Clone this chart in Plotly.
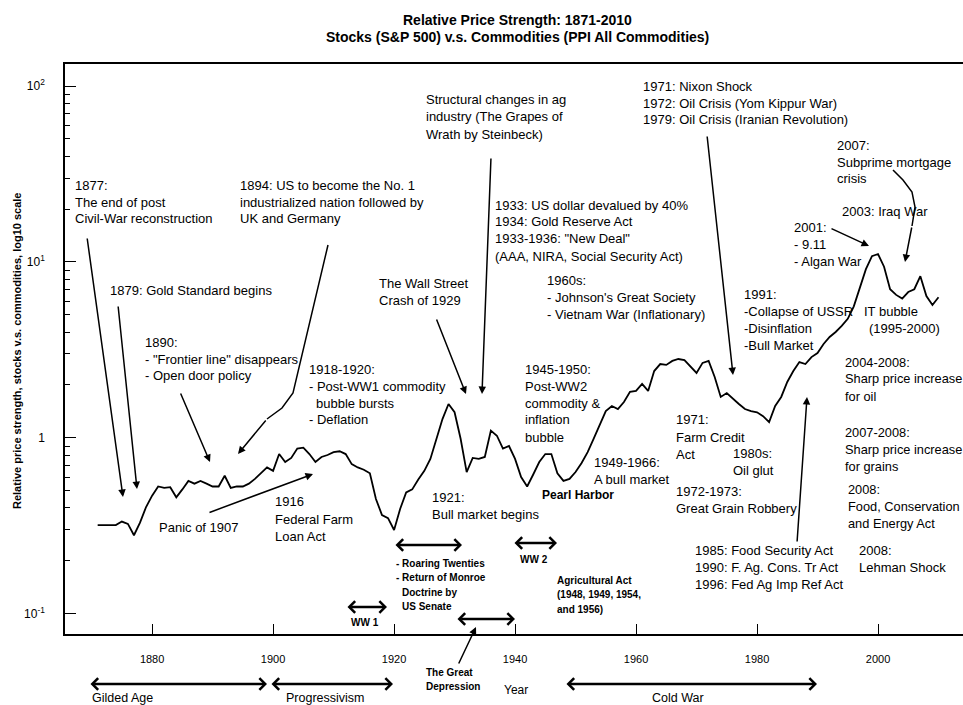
import plotly.graph_objects as go

# ---------------- data ----------------
years = list(range(1871, 2011))
ratio = [
    0.32, 0.32, 0.32, 0.32, 0.335, 0.325, 0.28, 0.33, 0.405, 0.47,      # 1871-1880
    0.53, 0.52, 0.525, 0.46, 0.51, 0.57, 0.55, 0.57, 0.55, 0.53,       # 1881-1890
    0.53, 0.61, 0.52, 0.53, 0.53, 0.55, 0.585, 0.63, 0.68, 0.65,       # 1891-1900
    0.81, 0.73, 0.77, 0.87, 0.88, 0.81, 0.73, 0.78, 0.80, 0.83,        # 1901-1910
    0.84, 0.81, 0.71, 0.68, 0.66, 0.63, 0.45, 0.365, 0.35, 0.30,       # 1911-1920
    0.395, 0.49, 0.51, 0.58, 0.65, 0.76, 0.99, 1.28, 1.56, 1.40,       # 1921-1930
    0.99, 0.64, 0.77, 0.76, 0.78, 1.10, 1.03, 0.87, 0.90, 0.76,        # 1931-1940
    0.60, 0.53, 0.62, 0.73, 0.81, 0.81, 0.63, 0.57, 0.585, 0.64,       # 1941-1950
    0.72, 0.83, 0.99, 1.20, 1.42, 1.52, 1.46, 1.60, 1.83, 1.85,        # 1951-1960
    2.03, 1.85, 2.40, 2.63, 2.60, 2.74, 2.81, 2.77, 2.53, 2.34,        # 1961-1970
    2.67, 2.74, 2.22, 1.71, 1.80, 1.67, 1.56, 1.46, 1.42, 1.40,        # 1971-1980
    1.33, 1.23, 1.52, 1.71, 2.08, 2.40, 2.70, 2.63, 2.88, 3.04,        # 1981-1990
    3.42, 3.75, 4.0, 4.33, 4.75, 5.6, 7.2, 9.1, 10.8, 11.1,            # 1991-2000
    9.4, 7.0, 6.5, 6.2, 6.75, 7.0, 8.3, 6.4, 5.7, 6.3,                 # 2001-2010
]

x_ticks = [1880, 1900, 1920, 1940, 1960, 1980, 2000]
y_ticks = [0.1, 1, 10, 100]
y_tick_text = ["10<sup>-1</sup>", "1", "10<sup>1</sup>", "10<sup>2</sup>"]
y_minor = [0.2, 0.3, 0.4, 0.5, 0.6, 0.7, 0.8, 0.9,
           2, 3, 4, 5, 6, 7, 8, 9, 20, 30, 40, 50, 60, 70, 80, 90]

title_lines = ["Relative Price Strength: 1871-2010",
               "Stocks (S&P 500) v.s. Commodities (PPI All Commodities)"]
y_title = "Relative price strength, stocks v.s. commodities, log10 scale"

FONT = "Liberation Sans, Arial, sans-serif"

# plot area in pixels
L, R, T, B = 65, 963, 64, 634


def pp(px, py):
    return (px - L) / (R - L), (B - py) / (B - T)


ann = []
shapes = []


def block(px, py, lines, size=13, dy=17, bold=False):
    for i, line in enumerate(lines):
        dx = 0
        if isinstance(line, tuple):
            dx, line = line
        x, y = pp(px + dx, py + i * dy)
        txt = "<b>%s</b>" % line if bold else line
        ann.append(dict(x=x, y=y, xref="paper", yref="paper", text=txt,
                        showarrow=False, xanchor="left", yanchor="middle",
                        font=dict(size=size, color="black", family=FONT)))


def arrow(tail, tip, head=2, width=1.5, size=1.0):
    x, y = pp(*tip)
    ann.append(dict(x=x, y=y, xref="paper", yref="paper", text="",
                    ax=tail[0] - tip[0], ay=tail[1] - tip[1],
                    showarrow=True, arrowhead=head, arrowsize=size,
                    arrowwidth=width, arrowcolor="black", standoff=0))


def darrow(p1, p2, width=2.5, head=4, size=0.9):
    x, y = pp(*p2)
    ann.append(dict(x=x, y=y, xref="paper", yref="paper", text="",
                    ax=p1[0] - p2[0], ay=p1[1] - p2[1],
                    showarrow=True, arrowside="end+start",
                    arrowhead=head, startarrowhead=head,
                    arrowsize=size, startarrowsize=size,
                    arrowwidth=width, arrowcolor="black",
                    standoff=0, startstandoff=0))


def path(points, width=1.5):
    d = ""
    for i, (px, py) in enumerate(points):
        x, y = pp(px, py)
        d += ("M" if i == 0 else "L") + "%.5f,%.5f " % (x, y)
    shapes.append(dict(type="path", path=d, xref="paper", yref="paper",
                       line=dict(color="black", width=width)))


# ---------------- annotations ----------------
block(73, 185, ["1877:", "The end of post", "Civil-War reconstruction"])
block(238, 185, ["1894: US to become the No. 1",
                 "industrialized nation followed by", "UK and Germany"])
block(424, 100, ["Structural changes in ag", "industry (The Grapes of",
                 "Wrath by Steinbeck)"])
block(493, 205, ["1933: US dollar devalued by 40%", "1934: Gold Reserve Act",
                 "1933-1936: \"New Deal\"", "(AAA, NIRA, Social Security Act)"])
block(641, 86, ["1971: Nixon Shock", "1972: Oil Crisis (Yom Kippur War)",
                "1979: Oil Crisis (Iranian Revolution)"])
block(835, 145, ["2007:", "Subprime mortgage", "crisis"])
block(840, 211, ["2003: Iraq War"])
block(792, 227, ["2001:", "- 9.11", "- Algan War"])
block(108, 290, ["1879: Gold Standard begins"])
block(377, 283, ["The Wall Street", "Crash of 1929"])
block(545, 280, ["1960s:", "- Johnson's Great Society", "- Vietnam War (Inflationary)"])
block(742, 294, ["1991:", "-Collapse of USSR", "-Disinflation", "-Bull Market"])
block(862, 311, ["IT bubble", (5, "(1995-2000)")])
block(143, 342, ["1890:", "- \"Frontier line\" disappears", "- Open door policy"])
block(307, 369, ["1918-1920:", "- Post-WW1 commodity", (7, "bubble bursts"), "- Deflation"])
block(843, 362, ["2004-2008:", "Sharp price increase", "for oil"], size=12.8)
block(523, 369, ["1945-1950:", "Post-WW2", "commodity &", "inflation", "bubble"])
block(674, 420, ["1971:", "Farm Credit", "Act"])
block(843, 432, ["2007-2008:", "Sharp price increase", "for grains"], size=12.8)
block(731, 453, ["1980s:", "Oil glut"])
block(592, 462, ["1949-1966:", "A bull market"])
block(540, 495, ["Pearl Harbor"], size=12, bold=True)
block(674, 491, ["1972-1973:", "Great Grain Robbery"])
block(157, 527, ["Panic of 1907"])
block(273, 502, ["1916", "Federal Farm", "Loan Act"])
block(430, 497, ["1921:", "Bull market begins"])
block(846, 489, ["2008:", "Food, Conservation", "and Energy Act"], size=12.8)
block(394, 563, ["- Roaring Twenties", "- Return of Monroe", (6, "Doctrine by"), (6, "US Senate")],
      size=10, dy=14.5, bold=True)
block(518, 559, ["WW 2"], size=10, bold=True)
block(555, 580, ["Agricultural Act", "(1948, 1949, 1954,", "and 1956)"], size=10, dy=14.5, bold=True)
block(693, 550, ["1985: Food Security Act", "1990: F. Ag. Cons. Tr Act",
                 "1996: Fed Ag Imp Ref Act"])
block(857, 550, ["2008:", "Lehman Shock"])
block(349, 622, ["WW 1"], size=10, bold=True)
block(424, 672, ["The Great", "Depression"], size=10, dy=14, bold=True)
block(90, 698, ["Gilded Age"], size=12.5)
block(284, 698, ["Progressivism"], size=12.5)
block(650, 698, ["Cold War"], size=12.5)

# arrows
arrow((87, 237), (123, 497))
arrow((118, 305), (137, 489))
arrow((180, 392), (210, 462))
path([(328, 245), (293, 393), (282, 408), (267, 419)])
arrow((267, 419), (238, 454))
arrow((208, 513), (313, 474))
arrow((436, 318), (466, 394))
arrow((491, 157), (482, 394))
arrow((707, 135), (733, 375))
arrow((830, 228), (869, 246))
path([(893, 170), (903, 180), (912, 192), (915, 207), (912, 226)])
arrow((912, 226), (905, 262))
arrow((797, 543), (807, 397))
arrow((458, 665), (476, 627))

# double arrows
darrow((394, 545), (462, 545))
darrow((513, 543), (557, 543))
darrow((346, 607), (387, 607))
darrow((456, 619), (515, 619))
darrow((89, 684), (267, 684))
darrow((270, 684), (393, 684))
darrow((565, 684), (817, 684))

# title & axis titles
for i, t in enumerate(title_lines):
    x, y = pp(517, 20 + i * 17)
    ann.append(dict(x=x, y=y, xref="paper", yref="paper", text="<b>%s</b>" % t,
                    showarrow=False, xanchor="center", yanchor="middle",
                    font=dict(size=14, color="black", family=FONT)))
x, y = pp(17, 351)
ann.append(dict(x=x, y=y, xref="paper", yref="paper", text="<b>%s</b>" % y_title,
                showarrow=False, xanchor="center", yanchor="middle", textangle=-90,
                font=dict(size=11, color="black", family=FONT)))
x, y = pp(516, 690)
ann.append(dict(x=x, y=y, xref="paper", yref="paper", text="Year",
                showarrow=False, xanchor="center", yanchor="middle",
                font=dict(size=12, color="black", family=FONT)))

# ---------------- figure ----------------
fig = go.Figure()
fig.add_trace(go.Scatter(x=years, y=ratio, mode="lines",
                         line=dict(color="black", width=1.8),
                         hoverinfo="x+y"))

fig.update_layout(
    width=963, height=705,
    margin=dict(l=L, r=963 - R, t=T, b=705 - B),
    paper_bgcolor="white", plot_bgcolor="white",
    showlegend=False,
    font=dict(family=FONT, color="black"),
    annotations=ann, shapes=shapes,
    xaxis=dict(range=[1865.6, 2014.05], tickvals=x_ticks,
               ticks="inside", ticklen=10, tickwidth=1.2, tickcolor="black",
               showline=True, linecolor="black", linewidth=1.5, mirror=True,
               showgrid=False, zeroline=False,
               tickfont=dict(size=11, color="black", family=FONT),
               ticklabelstandoff=14),
    yaxis=dict(type="log", range=[-1.114, 2.125],
               tickvals=y_ticks, ticktext=y_tick_text,
               ticks="inside", ticklen=11, tickwidth=1.2, tickcolor="black",
               minor=dict(ticks="inside", ticklen=5, tickvals=y_minor,
                          tickcolor="black", tickwidth=1, showgrid=False),
               showline=True, linecolor="black", linewidth=1.5,
               showgrid=False, zeroline=False,
               tickfont=dict(size=12, color="black", family=FONT),
               ticklabelstandoff=16),
)

fig.write_html("out.html",
               config={"displayModeBar": False},
               post_script="document.body.style.margin='0px';"
                           "document.body.style.overflow='hidden';")
